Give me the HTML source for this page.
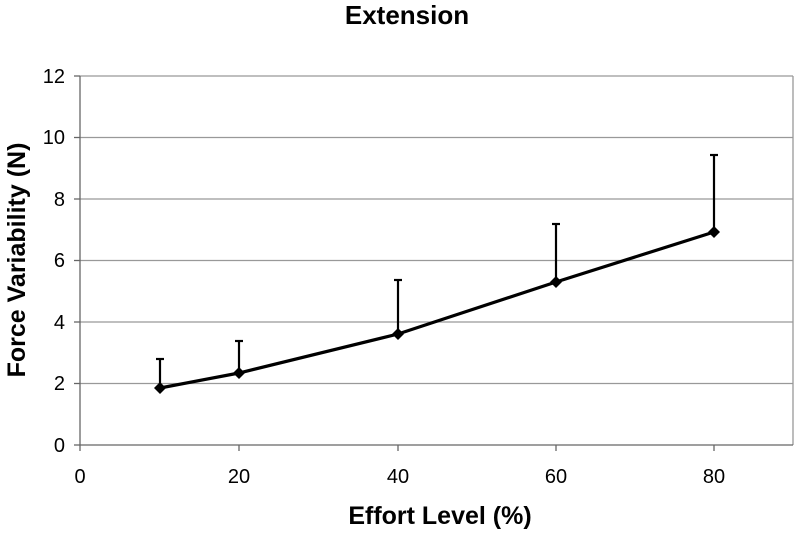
<!DOCTYPE html>
<html><head><meta charset="utf-8"><style>body{margin:0;background:#fff}</style></head><body>
<svg width="800" height="536" xmlns="http://www.w3.org/2000/svg" font-family="Liberation Sans, Arial, sans-serif">
<rect width="800" height="536" fill="#fff"/>
<text x="407" y="24" font-size="26" font-weight="bold" text-anchor="middle">Extension</text>
<g stroke="#999" stroke-width="1.3">
<line x1="80" y1="76" x2="793" y2="76"/>
<line x1="80" y1="137.5" x2="793" y2="137.5"/>
<line x1="80" y1="199" x2="793" y2="199"/>
<line x1="80" y1="260.5" x2="793" y2="260.5"/>
<line x1="80" y1="322" x2="793" y2="322"/>
<line x1="80" y1="383.5" x2="793" y2="383.5"/>
<line x1="793" y1="76" x2="793" y2="445"/>
</g>
<g stroke="#666" stroke-width="1.3">
<line x1="80" y1="76" x2="80" y2="445"/>
<line x1="80" y1="445" x2="793" y2="445"/>
<line x1="74" y1="76" x2="80" y2="76"/><line x1="74" y1="137.5" x2="80" y2="137.5"/><line x1="74" y1="199" x2="80" y2="199"/><line x1="74" y1="260.5" x2="80" y2="260.5"/><line x1="74" y1="322" x2="80" y2="322"/><line x1="74" y1="383.5" x2="80" y2="383.5"/><line x1="74" y1="445" x2="80" y2="445"/>
<line x1="80" y1="445" x2="80" y2="451"/><line x1="239" y1="445" x2="239" y2="451"/><line x1="398" y1="445" x2="398" y2="451"/><line x1="556" y1="445" x2="556" y2="451"/><line x1="714" y1="445" x2="714" y2="451"/>
</g>
<g font-size="20" text-anchor="end">
<text x="65" y="83">12</text><text x="65" y="144">10</text><text x="65" y="206">8</text><text x="65" y="267">6</text><text x="65" y="329">4</text><text x="65" y="390">2</text><text x="65" y="452">0</text>
</g>
<g font-size="20" text-anchor="middle">
<text x="80" y="483">0</text><text x="239" y="483">20</text><text x="398" y="483">40</text><text x="556" y="483">60</text><text x="714" y="483">80</text>
</g>
<text x="440" y="524" font-size="25" font-weight="bold" text-anchor="middle">Effort Level (%)</text>
<text transform="translate(25,260) rotate(-90)" font-size="25" font-weight="bold" text-anchor="middle">Force Variability (N)</text>
<g stroke="#000" stroke-width="2.2">
<line x1="160" y1="388" x2="160" y2="359"/><line x1="156" y1="359" x2="164" y2="359"/>
<line x1="239" y1="373" x2="239" y2="341"/><line x1="235" y1="341" x2="243" y2="341"/>
<line x1="398" y1="334" x2="398" y2="280"/><line x1="394" y1="280" x2="402" y2="280"/>
<line x1="556" y1="282" x2="556" y2="224"/><line x1="552" y1="224" x2="560" y2="224"/>
<line x1="714" y1="232" x2="714" y2="155"/><line x1="710" y1="155" x2="718" y2="155"/>
</g>
<polyline points="160,388 239,373 398,334 556,282 714,232" fill="none" stroke="#000" stroke-width="3.2"/>
<g fill="#000">
<path d="M160 382 L166 388 L160 394 L154 388Z"/>
<path d="M239 367 L245 373 L239 379 L233 373Z"/>
<path d="M398 328 L404 334 L398 340 L392 334Z"/>
<path d="M556 276 L562 282 L556 288 L550 282Z"/>
<path d="M714 226 L720 232 L714 238 L708 232Z"/>
</g>
</svg>
</body></html>
